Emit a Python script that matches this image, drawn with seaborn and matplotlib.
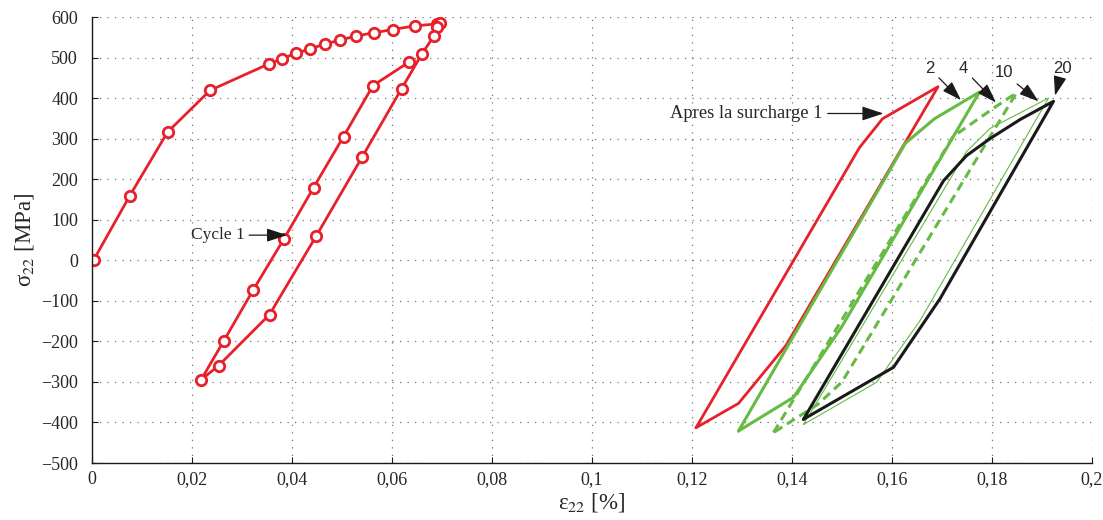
import matplotlib
matplotlib.use("Agg")
import matplotlib.pyplot as plt
import seaborn as sns

# cycle 1 (with markers): loading, unloading, reloading
eps_c1 = [0.0003, 0.0075, 0.0151, 0.0236, 0.0353, 0.0379, 0.0407, 0.0435, 0.0465,
          0.0496, 0.0528, 0.0563, 0.0601, 0.0645, 0.0690, 0.0696, 0.0690, 0.0683,
          0.0660, 0.0619, 0.0540, 0.0448, 0.0355, 0.0253, 0.0218, 0.0263, 0.0322,
          0.0384, 0.0443, 0.0503, 0.0562, 0.0633]
sig_c1 = [0, 158, 316, 419, 484, 497, 510, 521, 533,
          543, 553, 561, 569, 578, 583, 584, 575, 552,
          509, 423, 254, 59, -134, -260, -295, -200, -74,
          53, 179, 305, 431, 488]

# cycles after the overload
eps_r = [0.1208, 0.1535, 0.1581, 0.1692, 0.1388, 0.1293, 0.1208]
sig_r = [-413, 278, 349, 428, -210, -353, -413]

eps_g2 = [0.1293, 0.1627, 0.1685, 0.1775, 0.1499, 0.1403, 0.1293]
sig_g2 = [-421, 289, 349, 415, -165, -338, -421]

eps_g4 = [0.1363, 0.1722, 0.1803, 0.1849, 0.1500, 0.1452, 0.1363]
sig_g4 = [-425, 305, 375, 413, -300, -355, -425]

eps_g10 = [0.1423, 0.1749, 0.1796, 0.1913, 0.1656, 0.1569, 0.1423]
sig_g10 = [-405, 268, 325, 400, -149, -301, -405]

eps_b = [0.1423, 0.1703, 0.1749, 0.1796, 0.1856, 0.1923, 0.1696, 0.1603, 0.1423]
sig_b = [-392, 196, 258, 300, 347, 392, -95, -264, -392]

x_ticks = [0, 0.02, 0.04, 0.06, 0.08, 0.1, 0.12, 0.14, 0.16, 0.18, 0.2]
x_ticklabels = ["0", "0,02", "0,04", "0,06", "0,08", "0,1", "0,12", "0,14", "0,16", "0,18", "0,2"]
y_ticks = [-500, -400, -300, -200, -100, 0, 100, 200, 300, 400, 500, 600]

sns.set_style("ticks")
plt.rcParams["font.family"] = ["Liberation Serif", "DejaVu Serif"]
plt.rcParams["mathtext.fontset"] = "stix"
plt.rcParams["xtick.direction"] = "in"
plt.rcParams["ytick.direction"] = "in"

RED = "#e8202a"
GREEN = "#66bb44"
BLACK = "#1a1a1a"

fig = plt.figure(figsize=(11.03, 5.2), dpi=100)
ax = fig.add_axes([92 / 1103, 57 / 520, 1000 / 1103, 446 / 520])

sns.lineplot(x=eps_c1, y=sig_c1, sort=False, estimator=None, ax=ax, color=RED,
             lw=2.0, marker="o", ms=7.5, mfc="white", mec=RED, mew=2.0)
sns.lineplot(x=eps_r, y=sig_r, sort=False, estimator=None, ax=ax, color=RED, lw=2.0)
sns.lineplot(x=eps_g2, y=sig_g2, sort=False, estimator=None, ax=ax, color=GREEN, lw=2.2)
sns.lineplot(x=eps_g4, y=sig_g4, sort=False, estimator=None, ax=ax, color=GREEN,
             lw=2.2, ls=(0, (3, 1.8)))
sns.lineplot(x=eps_g10, y=sig_g10, sort=False, estimator=None, ax=ax, color=GREEN, lw=0.8)
sns.lineplot(x=eps_b, y=sig_b, sort=False, estimator=None, ax=ax, color=BLACK, lw=2.2)

arrow_kw = dict(arrowstyle="-|>,head_length=1.0,head_width=0.33", color=BLACK, lw=0.9,
                shrinkA=1, shrinkB=0)

# annotations
ax.annotate("Cycle 1", xy=(0.0390, 62), xytext=(0.0305, 62), ha="right", va="center",
            fontsize=12.5, arrowprops=arrow_kw)
ax.annotate("Apres la surcharge 1", xy=(0.1583, 362), xytext=(0.1462, 362), ha="right",
            va="center", fontsize=13.3, arrowprops=arrow_kw)
for lab, xt, xy in [("2", (0.1676, 472), (0.1738, 395)),
                    ("4", (0.1743, 472), (0.1808, 389)),
                    ("10", (0.1823, 462), (0.1893, 392)),
                    ("20", (0.1941, 474), (0.1926, 406))]:
    ax.annotate(lab, xy=xy, xytext=xt, ha="center", va="center", fontsize=12,
                family=["Liberation Sans", "DejaVu Sans"], arrowprops=arrow_kw)

ax.set_xlim(0, 0.2)
ax.set_ylim(-500, 600)
ax.set_xticks(x_ticks)
ax.set_xticklabels(x_ticklabels)
ax.set_yticks(y_ticks)
ax.set_yticklabels([str(v).replace("-", "\u2212") for v in y_ticks])
ax.tick_params(axis="both", labelsize=13, length=4, width=0.8, color=BLACK)
ax.tick_params(axis="x", pad=6)
ax.tick_params(axis="y", pad=10)

ax.grid(True, color="0.45", lw=0.9, ls=(0, (1, 5)))
for side in ["top", "right"]:
    ax.spines[side].set_visible(False)
for side in ["left", "bottom"]:
    ax.spines[side].set_color(BLACK)
    ax.spines[side].set_linewidth(1.0)

# upright greek letters, as in the original
ax.set_xlabel("\u03b5$_{22}$ [%]", fontsize=16.5, labelpad=2)
ax.set_ylabel("\u03c3$_{22}$ [MPa]", fontsize=16.5, labelpad=4)

fig.savefig("out.png", dpi=100)
